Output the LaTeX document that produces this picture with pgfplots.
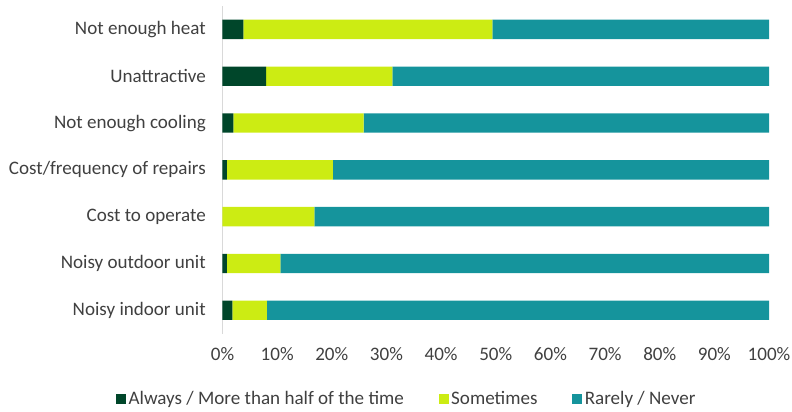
\documentclass[border=0pt]{standalone}
\usepackage{fontspec}
\setmainfont{Carlito}
\usepackage{pgfplots}
\pgfplotsset{compat=1.18}

\definecolor{always}{HTML}{00462A}
\definecolor{sometimes}{HTML}{CCEC13}
\definecolor{rarely}{HTML}{15949C}
\definecolor{txt}{HTML}{404040}

\begin{document}
\begin{tikzpicture}
\useasboundingbox (-166.875pt,-57.975pt) rectangle (427.125pt,250.275pt);
\begin{axis}[
    at={(0,0)}, anchor=south west,
    scale only axis,
    width=409.9pt, height=245.8pt,
    xbar stacked,
    bar width=14.5pt,
    xmin=0, xmax=100,
    ymin=-0.5, ymax=6.5,
    xtick={0,10,...,100},
    xticklabel={\pgfmathprintnumber{\tick}\%},
    /pgf/number format/assume math mode=true,
    ytick={0,...,6},
    yticklabels={Noisy indoor unit, Noisy outdoor unit, Cost to operate,
                 Cost/frequency of repairs, Not enough cooling, Unattractive,
                 Not enough heat},
    major tick length=0pt,
    axis lines=left,
    x axis line style={draw=none},
    y axis line style={draw=black!15, line width=0.8pt, -},
    tick label style={font=\fontsize{14.3}{16}\selectfont, text=txt},
    yticklabel style={xshift=-9pt},
    xticklabel style={yshift=-7pt},
    legend style={at={(0.3376,-0.198)}, anchor=center, draw=none,
        font=\fontsize{14.3}{16}\selectfont, text=txt,
        legend columns=3,
        /tikz/every even column/.append style={column sep=24pt}},
    legend image code/.code={\fill[#1] (0pt,-3.75pt) rectangle (7.5pt,3.75pt);},
    clip=false,
]
\addplot[fill=always, draw=none] coordinates {
(1.8,0) (0.8,1) (0,2) (0.8,3) (2.0,4) (8.0,5) (3.8,6)};
\addplot[fill=sometimes, draw=none] coordinates {
(6.3,0) (9.8,1) (16.8,2) (19.4,3) (23.8,4) (23.1,5) (45.6,6)};
\addplot[fill=rarely, draw=none] coordinates {
(91.9,0) (89.4,1) (83.2,2) (79.8,3) (74.2,4) (68.9,5) (50.6,6)};
\legend{Always / More than half of the time, Sometimes, Rarely / Never}
\end{axis}
\end{tikzpicture}
\end{document}
